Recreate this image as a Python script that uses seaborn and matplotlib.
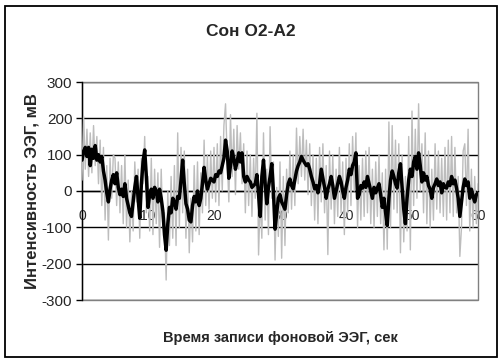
import numpy as np
import pandas as pd
import matplotlib
matplotlib.use("Agg")
import matplotlib.pyplot as plt
import seaborn as sns
from matplotlib.patches import Rectangle

# ---- data (0.25 s sampling) ----
time_s = np.arange(0, 60.001, 0.25)

smoothed = [
    85, 110, 120, 95, 120, 70, 115, 90, 125, 85, 100, 80, 95, 55, 30, -5, -30, 5, 30, 45,
    20, 50, 10, -10, 5, -15, 20, -20, -40, -60, -70, -30, 10, 40, -20, -75, 20, 80, 113, 40,
    -45, -10, 5, -20, 10, 0, -30, 5, -20, -55, -120, -163, -90, -45, -60, -20, -30, -50, -15, -20,
    30, 85, 20, -35, -50, -80, -85, -40, -15, -30, 0, -40, -20, 20, 65, 30, 5, 20, 35, 30,
    25, 45, 40, 55, 50, 70, 90, 140, 110, 35, 70, 110, 90, 60, 80, 105, 80, 105, 40, 25,
    40, 30, 25, 10, 15, 20, 45, -10, -70, 40, 85, 20, -35, 10, 40, 75, 0, -105, -60, -20,
    -10, -30, -40, -50, -10, 20, 33, 15, 6, 30, 55, 70, 80, 95, 85, 77, 70, 75, 60, 40,
    25, 6, 15, -5, 20, 60, 35, 10, -20, 5, 20, 40, 15, -20, 0, 20, 40, 25, 0, -20,
    10, 30, 60, 45, 70, 80, 105, -20, -10, 15, 8, 25, 10, 40, 20, 0, -20, 10, -5, 8,
    20, -10, -45, -20, -60, -95, -20, 30, 55, 40, 20, 8, 50, 75, 10, -50, -90, -20, 30, 60,
    40, 80, 95, 60, 105, 70, 25, 50, 30, 40, 15, 5, -20, 10, 20, 33, 15, 25, -5, 20,
    10, 8, 25, 15, 40, 20, 30, 8, -20, -70, -30, 10, 33, 15, 25, -20, 5, -15, -30, -10,
    -5,
]

raw = [
    30, 205, 60, 170, 40, 160, 50, 180, 70, 150, 20, 140, -40, 120, -80, 70, -135, 90, -20, 100,
    90, -40, 80, -60, 70, -90, 100, -100, 30, -140, 0, -110, 80, -30, 60, -130, 90, 20, 150, -60,
    40, -110, 90, -120, 60, -90, 50, -155, 60, -100, -60, -245, 0, -150, 40, -130, 70, -150, 160, -100,
    120, -60, 110, -130, 60, -170, -20, -140, 70, -110, 80, -120, 50, -60, 140, -40, 100, -50, 110, -20,
    120, -30, 130, -40, 150, 0, 180, 240, 90, -30, 210, 40, 170, -10, 180, 60, 160, 20, 130, -60,
    110, -40, 100, -70, 90, -20, 214, -176, -20, -130, 160, -80, 60, -120, 177, -20, 80, -190, 10, -125,
    80, -185, 40, -150, 60, -60, 110, -50, 100, -40, 173, 20, 150, 40, 170, 30, 140, -10, 130, -40,
    100, -80, 90, -90, 120, -30, 130, -60, 70, -175, 110, -50, 100, -90, 60, -70, 120, -60, 80, -120,
    90, -60, 130, -40, 150, 0, 160, -100, 70, -80, 90, -70, 110, -60, 120, -90, 60, -100, 80, -70,
    100, -90, 50, -162, 60, -160, 190, -100, 180, -50, 140, -60, 130, -170, 100, -140, 40, -110, 150, -162,
    220, -40, 170, -20, 240, 0, 130, -60, 160, -90, 110, -100, 60, -80, 130, -50, 110, -60, 90, -70,
    120, -80, 140, -60, 150, -70, 120, -60, 40, -180, -100, 110, 130, -40, 170, -110, 60, -100, 40, -90,
    20,
]

x_ticks = [0, 10, 20, 30, 40, 50, 60]
y_ticks = [-300, -200, -100, 0, 100, 200, 300]

title = "Сон О2-А2"
x_label = "Время записи фоновой ЭЭГ, сек"
y_label = "Интенсивность ЭЭГ, мВ"

# ---- plot ----
sns.set_style("white")
plt.rcParams["font.family"] = ["Liberation Sans", "DejaVu Sans"]

df = pd.DataFrame({"t": time_s, "raw": raw, "smooth": smoothed})

fig = plt.figure(figsize=(5.02, 3.64), dpi=100)
ax = fig.add_axes([82 / 502, 1 - 300 / 364, (478 - 82) / 502, (300 - 82) / 364])

sns.lineplot(data=df, x="t", y="raw", ax=ax, color="#bdbdbd", linewidth=1.0, zorder=3)
sns.lineplot(data=df, x="t", y="smooth", ax=ax, color="black", linewidth=2.5, zorder=4)

ax.set_xlim(0, 60)
ax.set_ylim(-300, 300)
ax.set_xticks(x_ticks)
ax.set_yticks(y_ticks)
ax.set_xticklabels([str(v) for v in x_ticks], fontsize=11, color="#1f3c88")
ax.set_yticklabels([str(v) for v in y_ticks], fontsize=11)
ax.set_xlabel("")
ax.set_ylabel("")

ax.set_axisbelow(True)
ax.yaxis.grid(True, color="black", linewidth=1.0)
ax.xaxis.grid(False)

for s in ["top", "right"]:
    ax.spines[s].set_visible(False)
ax.spines["left"].set_color("black")
ax.spines["left"].set_linewidth(1.0)
ax.spines["bottom"].set_position(("data", 0))
ax.spines["bottom"].set_color("black")
ax.spines["bottom"].set_linewidth(1.0)

ax.tick_params(axis="x", length=0, pad=13)
ax.tick_params(axis="y", length=4, width=1, color="black", pad=3, left=True)

# plot-area border (grey)
ax.add_patch(Rectangle((0, 0), 1, 1, transform=ax.transAxes, fill=False,
                       edgecolor="#808080", linewidth=1.0, zorder=1, clip_on=False))

fig.text(0.5, 1 - 32 / 364, title, ha="center", va="center", fontsize=12.5, fontweight="bold")
fig.text(280 / 502, 1 - 338 / 364, x_label, ha="center", va="center", fontsize=10.5, fontweight="bold")
fig.text(32 / 502, 1 - 191 / 364, y_label, ha="center", va="center", rotation=90,
         fontsize=12, fontweight="bold")

# chart outer border
fig.add_artist(Rectangle((5 / 502, 1 - 357 / 364), 492 / 502, 351 / 364,
                         transform=fig.transFigure, fill=False, edgecolor="black", linewidth=1.3))

fig.savefig("out.png", dpi=100)
